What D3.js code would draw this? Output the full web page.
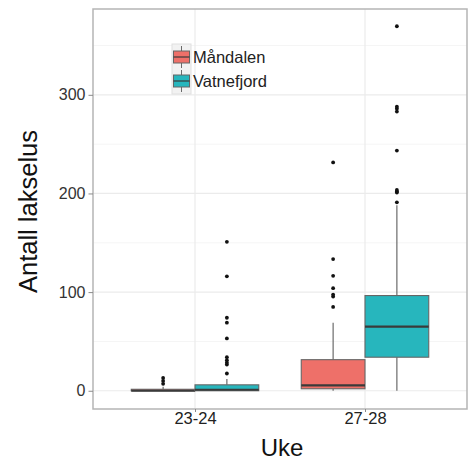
<!DOCTYPE html>
<html>
<head>
<meta charset="utf-8">
<script src="https://cdn.jsdelivr.net/npm/d3@7"></script>
<style>
  html, body { margin:0; padding:0; background:#fff; }
  svg text { font-family: "Liberation Sans", Arial, sans-serif; }
</style>
</head>
<body>
<svg id="chart" width="469" height="468"></svg>
<script>
const weeks = ["23-24", "27-28"];
const sites = ["Måndalen", "Vatnefjord"];
const siteColors = ["#ee7069", "#27b6bd"];

// box summary per (week, site), order: 23-24 Måndalen, 23-24 Vatnefjord, 27-28 Måndalen, 27-28 Vatnefjord
const boxWeek = ["23-24", "23-24", "27-28", "27-28"];
const boxSite = ["Måndalen", "Vatnefjord", "Måndalen", "Vatnefjord"];
const lowWhisker = [0, 0, 0, 0];
const q1 = [0, 0, 2, 34];
const median = [0, 1, 5.5, 65];
const q3 = [1.5, 6, 31.5, 96.5];
const highWhisker = [4, 12, 69, 188];
const outliers = [
  [7, 10, 13],
  [17.5, 26.5, 28.5, 31, 34, 53, 69, 74, 116, 151],
  [85, 95.5, 97.5, 104, 116.5, 133.5, 231.5],
  [191, 201, 202, 203.5, 243.5, 283, 286, 288, 369.5]
];
const yTicks = [0, 100, 200, 300];
const yMinor = [50, 150, 250, 350];

const svg = d3.select("#chart");
const panel = { left: 93, top: 9, right: 467, bottom: 409 };

// discrete x positions 1 and 2 on a [0.4, 2.6] range (ggplot-style expansion)
const xc = d3.scaleLinear().domain([0.4, 2.6]).range([panel.left, panel.right]);
const xs = d3.scalePoint().domain(weeks).range([xc(1), xc(2)]);
const boxW = xc(1.375) - xc(1);
const dodge = d3.scaleBand().domain(sites).range([-boxW, boxW]);

const y = d3.scaleLinear().domain([-18.5, 387]).range([panel.bottom, panel.top]);

// grid
const grid = svg.append("g");
grid.selectAll("line.minor").data(yMinor).enter().append("line")
  .attr("x1", panel.left).attr("x2", panel.right)
  .attr("y1", d => y(d)).attr("y2", d => y(d))
  .attr("stroke", "#f5f5f5").attr("stroke-width", 1);
grid.selectAll("line.major").data(yTicks).enter().append("line")
  .attr("x1", panel.left).attr("x2", panel.right)
  .attr("y1", d => y(d)).attr("y2", d => y(d))
  .attr("stroke", "#ebebeb").attr("stroke-width", 1.2);
grid.selectAll("line.vx").data(weeks).enter().append("line")
  .attr("x1", d => xs(d)).attr("x2", d => xs(d))
  .attr("y1", panel.top).attr("y2", panel.bottom)
  .attr("stroke", "#ebebeb").attr("stroke-width", 1.2);

// boxes
const boxes = d3.range(boxWeek.length).map(i => ({
  cx: xs(boxWeek[i]) + dodge(boxSite[i]) + dodge.bandwidth() / 2,
  x0: xs(boxWeek[i]) + dodge(boxSite[i]),
  color: siteColors[sites.indexOf(boxSite[i])],
  lo: lowWhisker[i], q1: q1[i], med: median[i], q3: q3[i], hi: highWhisker[i], out: outliers[i]
}));

const bg = svg.append("g").selectAll("g").data(boxes).enter().append("g");
bg.append("line")
  .attr("x1", d => d.cx).attr("x2", d => d.cx)
  .attr("y1", d => y(d.q3)).attr("y2", d => y(d.hi))
  .attr("stroke", "#6b6b6b").attr("stroke-width", 1.2);
bg.append("line")
  .attr("x1", d => d.cx).attr("x2", d => d.cx)
  .attr("y1", d => y(d.q1)).attr("y2", d => y(d.lo))
  .attr("stroke", "#6b6b6b").attr("stroke-width", 1.2);
bg.append("rect")
  .attr("x", d => d.x0).attr("width", dodge.bandwidth())
  .attr("y", d => y(d.q3)).attr("height", d => Math.max(y(d.q1) - y(d.q3), 1))
  .attr("fill", d => d.color).attr("stroke", "#666").attr("stroke-width", 1.1);
bg.append("line")
  .attr("x1", d => d.x0).attr("x2", d => d.x0 + dodge.bandwidth())
  .attr("y1", d => y(d.med)).attr("y2", d => y(d.med))
  .attr("stroke", "#3a3a3a").attr("stroke-width", 2.2);
bg.selectAll("circle").data(d => d.out.map(v => ({ cx: d.cx, v }))).enter().append("circle")
  .attr("cx", d => d.cx).attr("cy", d => y(d.v)).attr("r", 1.9).attr("fill", "#111");

// panel border
svg.append("rect")
  .attr("x", panel.left).attr("y", panel.top)
  .attr("width", panel.right - panel.left).attr("height", panel.bottom - panel.top)
  .attr("fill", "none").attr("stroke", "#b5b5b5").attr("stroke-width", 1.5);

// axes
const yAxis = svg.append("g").attr("transform", `translate(${panel.left},0)`)
  .call(d3.axisLeft(y).tickValues(yTicks).tickSize(4.5).tickPadding(3));
yAxis.select(".domain").remove();
yAxis.selectAll("line").attr("stroke", "#8a8a8a");
yAxis.selectAll("text").attr("fill", "#333").style("font-size", "16px");

const xAxis = svg.append("g").attr("transform", `translate(0,${panel.bottom})`)
  .call(d3.axisBottom(xs).tickSize(3).tickPadding(0));
xAxis.select(".domain").remove();
xAxis.selectAll("line").attr("stroke", "#8a8a8a");
xAxis.selectAll("text").attr("fill", "#222").style("font-size", "16.5px");

// axis titles
svg.append("text").attr("x", 282).attr("y", 456)
  .attr("text-anchor", "middle").style("font-size", "24px").attr("fill", "#111").text("Uke");
svg.append("text").attr("transform", `translate(37,211.5) rotate(-90)`)
  .attr("text-anchor", "middle").style("font-size", "25.5px").attr("fill", "#111").text("Antall lakselus");

// legend
const lg = svg.append("g").attr("transform", "translate(172,44)");
lg.append("rect").attr("x", 0).attr("y", 0).attr("width", 19).attr("height", 50)
  .attr("fill", "#f2f2f2").attr("stroke", "#e0e0e0");
const items = lg.selectAll("g").data(sites).enter().append("g")
  .attr("transform", (d, i) => `translate(0,${i * 24})`);
items.append("line").attr("x1", 9.5).attr("x2", 9.5).attr("y1", 2).attr("y2", 24)
  .attr("stroke", "#6b6b6b");
items.append("rect").attr("x", 1.5).attr("y", 7).attr("width", 16).attr("height", 12)
  .attr("fill", (d, i) => siteColors[i]).attr("stroke", "#666");
items.append("line").attr("x1", 1.5).attr("x2", 17.5).attr("y1", 13).attr("y2", 13)
  .attr("stroke", "#3a3a3a").attr("stroke-width", 1.2);
items.append("text").attr("x", 21).attr("y", 19).style("font-size", "16.5px").attr("fill", "#222")
  .text(d => d);
</script>
</body>
</html>
